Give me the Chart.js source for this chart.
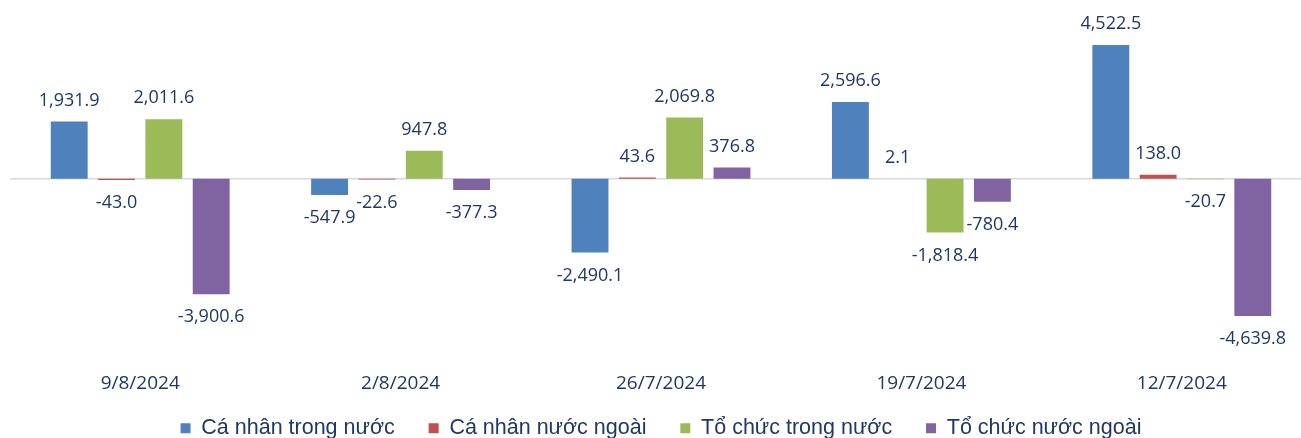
<!DOCTYPE html>
<html>
<head>
<meta charset="utf-8">
<script src="https://cdn.jsdelivr.net/npm/chart.js@4.4.1/dist/chart.umd.min.js"></script>
<style>
  html, body { margin: 0; padding: 0; background: #fff; overflow: hidden; }
  #wrap { width: 1312px; height: 438px; position: relative; }
</style>
</head>
<body>
<div id="wrap"><canvas id="c"></canvas></div>
<script>
// Giao dịch ròng theo nhóm nhà đầu tư (tỷ đồng), theo tuần
const categories = ['9/8/2024', '2/8/2024', '26/7/2024', '19/7/2024', '12/7/2024'];
const caNhanTrongNuoc = [1931.9, -547.9, -2490.1, 2596.6, 4522.5];
const caNhanNuocNgoai = [-43.0, -22.6, 43.6, 2.1, 138.0];
const toChucTrongNuoc = [2011.6, 947.8, 2069.8, -1818.4, -20.7];
const toChucNuocNgoai = [-3900.6, -377.3, 376.8, -780.4, -4639.8];

const seriesNames = ['Cá nhân trong nước', 'Cá nhân nước ngoài', 'Tổ chức trong nước', 'Tổ chức nước ngoài'];
const seriesColors = ['#4F81BD', '#C0504D', '#9BBB59', '#8064A2'];

const textColor = '#1F3864';

// zero line across the plot
const zeroLine = {
    id: 'zeroLine',
    beforeDatasetsDraw(chart) {
        const { ctx, chartArea, scales } = chart;
        const y = scales.y.getPixelForValue(0);
        ctx.save();
        ctx.strokeStyle = '#D9D9D9';
        ctx.lineWidth = 1.5;
        ctx.beginPath();
        ctx.moveTo(chartArea.left, y);
        ctx.lineTo(chartArea.right, y);
        ctx.stroke();
        ctx.restore();
    }
};

// value labels outside the bar ends
const valueLabels = {
    id: 'valueLabels',
    afterDatasetsDraw(chart) {
        const { ctx } = chart;
        ctx.save();
        ctx.font = '18px "Open Sans", sans-serif';
        ctx.fillStyle = textColor;
        ctx.textAlign = 'center';
        ctx.textBaseline = 'middle';
        chart.data.datasets.forEach((ds, i) => {
            chart.getDatasetMeta(i).data.forEach((bar, j) => {
                const v = ds.data[j];
                const txt = v.toLocaleString('en-US', { minimumFractionDigits: 1, maximumFractionDigits: 1 });
                const y = v >= 0 ? bar.y - 21 : bar.y + 23;
                ctx.fillText(txt, bar.x, y);
            });
        });
        ctx.restore();
    }
};

const dataSets = [caNhanTrongNuoc, caNhanNuocNgoai, toChucTrongNuoc, toChucNuocNgoai].map((d, i) => ({
    label: seriesNames[i],
    data: d,
    backgroundColor: seriesColors[i],
    borderWidth: 0,
    categoryPercentage: 0.727,
    barPercentage: 0.78
}));

new Chart(document.getElementById('c'), {
    type: 'bar',
    data: { labels: categories, datasets: dataSets },
    plugins: [zeroLine, valueLabels],
    options: {
        responsive: true,
        maintainAspectRatio: false,
        animation: false,
        layout: { padding: { top: 10, left: 10, right: 0, bottom: -11 } },
        plugins: {
            tooltip: { enabled: false },
            legend: {
                position: 'bottom',
                labels: {
                    font: { family: '"Liberation Sans Narrow", "Liberation Sans", Arial, sans-serif', size: 21.5 },
                    color: textColor,
                    boxWidth: 10,
                    boxHeight: 10,
                    padding: 10,
                    generateLabels(chart) {
                        const items = Chart.defaults.plugins.legend.labels.generateLabels(chart);
                        items.forEach((it, i) => { if (i < items.length - 1) it.text += '    '; });
                        return items;
                    }
                }
            }
        },
        scales: {
            x: {
                grid: { display: false },
                border: { display: false },
                ticks: {
                    color: textColor,
                    font: { family: '"Open Sans", sans-serif', size: 19 },
                    padding: -1
                },
                afterFit(scale) { scale.height = 42; }
            },
            y: {
                display: false,
                min: -6311,
                max: 5702
            }
        }
    }
});
</script>
</body>
</html>
